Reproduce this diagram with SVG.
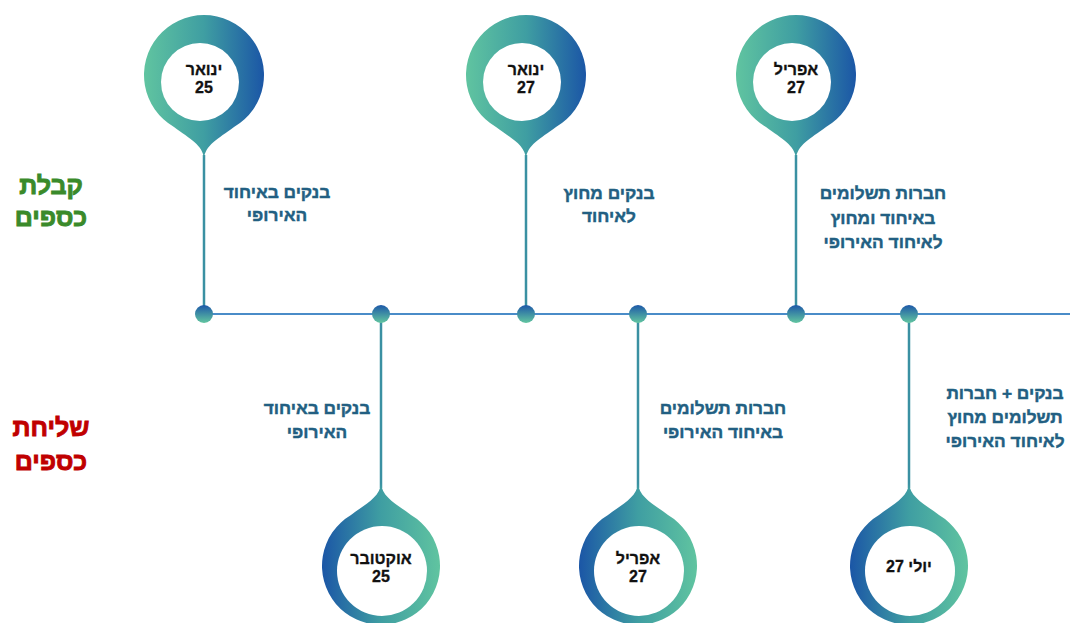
<svg xmlns="http://www.w3.org/2000/svg" width="1070" height="623" viewBox="0 0 1070 623">
<defs>
<linearGradient id="gTop" x1="0" y1="0" x2="1" y2="0">
<stop offset="0" stop-color="#60c4a0"/>
<stop offset="0.5" stop-color="#3f9ea2"/>
<stop offset="1" stop-color="#1b56a6"/>
</linearGradient>
<linearGradient id="gBot" x1="0" y1="0" x2="1" y2="0">
<stop offset="0" stop-color="#1b56a6"/>
<stop offset="0.5" stop-color="#3f9ea2"/>
<stop offset="1" stop-color="#60c4a0"/>
</linearGradient>
<linearGradient id="gDot" x1="0" y1="0" x2="0" y2="1">
<stop offset="0" stop-color="#1d58a8"/>
<stop offset="1" stop-color="#62c6a0"/>
</linearGradient>
<path id="pinTop" d="M0,84 C1,70 14,64 30,52 A60 60 0 1 0 -30,52 C-14,64 -1,70 0,84 Z"/>
<path id="pinBot" d="M0,-82 C1,-68 14,-62 30,-50 A59 59 0 1 1 -30,-50 C-14,-62 -1,-68 0,-82 Z"/>
</defs>
<style>
.t{font-family:"Liberation Sans","DejaVu Sans",sans-serif;font-weight:bold;text-anchor:middle;direction:rtl}
.pin{font-size:16px;fill:#111;stroke:#111;stroke-width:0.3}
.lbl{font-size:17.3px;fill:#225f82;stroke:#225f82;stroke-width:0.45}
.side{font-size:25px;stroke-width:0.9}
.vl{stroke:#3a90a2;stroke-width:2.5;fill:none}
.hl{stroke:#4a8cc8;stroke-width:2;fill:none}
</style>
<g id="connectors">
<line class="hl" x1="204" y1="314" x2="1070" y2="314"/>
<line class="vl" x1="204" y1="155" x2="204" y2="314"/>
<line class="vl" x1="526" y1="155" x2="526" y2="314"/>
<line class="vl" x1="796" y1="155" x2="796" y2="314"/>
<line class="vl" x1="381" y1="314" x2="381" y2="488"/>
<line class="vl" x1="638" y1="314" x2="638" y2="488"/>
<line class="vl" x1="909" y1="314" x2="909" y2="488"/>
</g>
<g id="dots" fill="url(#gDot)">
<circle cx="204" cy="314" r="9"/>
<circle cx="381" cy="314" r="9"/>
<circle cx="526" cy="314" r="9"/>
<circle cx="638" cy="314" r="9"/>
<circle cx="796" cy="314" r="9"/>
<circle cx="909" cy="314" r="9"/>
</g>
<g id="side-labels">
<text class="t side" x="51" y="194" fill="#3a8a2a" stroke="#3a8a2a">קבלת</text>
<text class="t side" x="51" y="226" fill="#3a8a2a" stroke="#3a8a2a">כספים</text>
<text class="t side" x="51" y="436" fill="#c00000" stroke="#c00000">שליחת</text>
<text class="t side" x="51" y="470" fill="#c00000" stroke="#c00000">כספים</text>
</g>
<g id="pin-jan25" transform="translate(204,75)">
<use href="#pinTop" fill="url(#gTop)"/>
<circle cx="-4" cy="7" r="39" fill="#fff"/>
<text class="t pin" x="0" y="0">ינואר</text>
<text class="t pin" x="0" y="18">25</text>
</g>
<g id="pin-jan27" transform="translate(526,75)">
<use href="#pinTop" fill="url(#gTop)"/>
<circle cx="-4" cy="7" r="39" fill="#fff"/>
<text class="t pin" x="0" y="0">ינואר</text>
<text class="t pin" x="0" y="18">27</text>
</g>
<g id="pin-apr27a" transform="translate(796,75)">
<use href="#pinTop" fill="url(#gTop)"/>
<circle cx="-4" cy="7" r="39" fill="#fff"/>
<text class="t pin" x="0" y="0">אפריל</text>
<text class="t pin" x="0" y="18">27</text>
</g>
<g id="pin-oct25" transform="translate(381,565)">
<use href="#pinBot" fill="url(#gBot)"/>
<circle cx="1" cy="6" r="45" fill="#fff"/>
<text class="t pin" x="0" y="-1">אוקטובר</text>
<text class="t pin" x="0" y="17">25</text>
</g>
<g id="pin-apr27b" transform="translate(638,565)">
<use href="#pinBot" fill="url(#gBot)"/>
<circle cx="1" cy="6" r="45" fill="#fff"/>
<text class="t pin" x="0" y="-1">אפריל</text>
<text class="t pin" x="0" y="17">27</text>
</g>
<g id="pin-jul27" transform="translate(909,565)">
<use href="#pinBot" fill="url(#gBot)"/>
<circle cx="1" cy="6" r="45" fill="#fff"/>
<text class="t pin" x="0" y="7">יולי 27</text>
</g>
<g id="label-1">
<text class="t lbl" x="277" y="198">בנקים באיחוד</text>
<text class="t lbl" x="277" y="221">האירופי</text>
</g>
<g id="label-2">
<text class="t lbl" x="609" y="199">בנקים מחוץ</text>
<text class="t lbl" x="609" y="222">לאיחוד</text>
</g>
<g id="label-3">
<text class="t lbl" x="883" y="199">חברות תשלומים</text>
<text class="t lbl" x="883" y="224">באיחוד ומחוץ</text>
<text class="t lbl" x="883" y="248">לאיחוד האירופי</text>
</g>
<g id="label-4">
<text class="t lbl" x="317" y="414">בנקים באיחוד</text>
<text class="t lbl" x="317" y="438">האירופי</text>
</g>
<g id="label-5">
<text class="t lbl" x="723" y="414">חברות תשלומים</text>
<text class="t lbl" x="723" y="438">באיחוד האירופי</text>
</g>
<g id="label-6">
<text class="t lbl" x="1005" y="399">בנקים + חברות</text>
<text class="t lbl" x="1005" y="423">תשלומים מחוץ</text>
<text class="t lbl" x="1005" y="447">לאיחוד האירופי</text>
</g>
</svg>
